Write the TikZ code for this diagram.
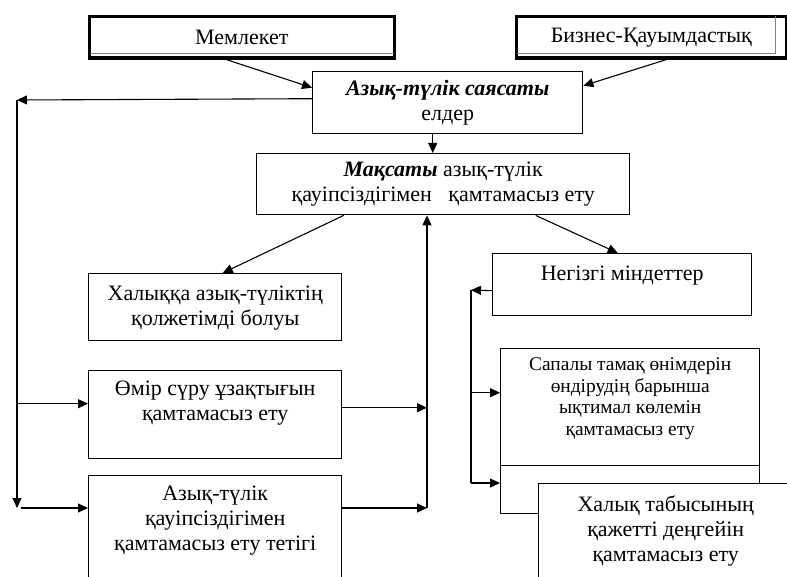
\documentclass[tikz,border=0pt]{standalone}
\usepackage{fontspec}
\setmainfont{Liberation Serif}
\usetikzlibrary{arrows.meta,positioning,calc}

\begin{document}
\begin{tikzpicture}[x=0.5pt,y=-0.5pt]
\tikzset{
     box/.style={draw, line width=0.7pt, inner sep=0pt, anchor=north west, fill=white},
     frame/.style={box, line width=1.3pt},
     txt/.style={align=center, inner sep=0pt, font=\fontsize{11}{12.5}\selectfont},
     arr/.style={-{Triangle[length=5pt,width=4.5pt]}, line width=0.55pt}}

\useasboundingbox (0,0) rectangle (787,577);
\clip (0,0) rectangle (787,577);

% The framed boxes on top
\node (state) [frame, txt, minimum width=152.5pt, minimum height=21pt] at (88,15) {Мемлекет};
\node (biz) [frame, txt, minimum width=135pt, minimum height=21pt] at (515,15) {Бизнес-Қауымдастық};

\draw [line width=2pt] ([yshift=1pt]state.south west) -- ([yshift=1pt]state.south east);
\draw [gray, line width=0.5pt] ([xshift=1pt,yshift=3pt]state.south west) -- ([xshift=-1pt,yshift=3pt]state.south east);
\draw [line width=2pt] ([yshift=1pt]biz.south west) -- ([yshift=1pt]biz.south east);
\draw [line width=1.5pt] ([xshift=-0.5pt]biz.north east) -- ([xshift=-0.5pt]biz.south east);
\draw [gray, line width=0.5pt] ([xshift=1pt,yshift=3pt]biz.south west) -- ([xshift=-6pt,yshift=3pt]biz.south east)
      -- ([xshift=-6pt,yshift=-0.6pt]biz.north east);

% The middle column
\node (policy) [box, txt, minimum width=135pt, minimum height=31pt] at (312,71)
      {\textbf{\textit{Азық-түлік саясаты}}\\ елдер};
\node (goal) [box, txt, minimum width=186.5pt, minimum height=30.5pt] at (256,153)
      {\textbf{\textit{Мақсаты}} азық-түлік\\ қауіпсіздігімен\ \ \ қамтамасыз ету};

% The left boxes
\node (access) [box, minimum width=126.5pt, minimum height=33.5pt] at (88,273) {};
\node (life) [box, minimum width=126.5pt, minimum height=44pt] at (88,370) {};
\node (mech) [box, minimum width=126.5pt, minimum height=65pt] at (88,475) {};

\node [txt, below=6.5pt of access.north] {Халыққа азық-түліктің\\ қолжетімді болуы};
\node [txt, below=5.5pt of life.north] {Өмір сүру ұзақтығын\\ қамтамасыз ету};
\node [txt, below=5.5pt of mech.north] {Азық-түлік\\ қауіпсіздігімен\\ қамтамасыз ету тетігі};

% The right boxes
\node (tasks) [box, minimum width=129.5pt, minimum height=31pt] at (492,253) {};
\node (prod) [box, minimum width=129.5pt, minimum height=58.5pt] at (500,348) {};
\node (spare) [box, minimum width=129.5pt, minimum height=24pt] at (500,465) {};
\node (income) [box, minimum width=127pt, minimum height=65pt] at (538,483) {};

\node [txt, below=6.5pt of tasks.north] {Негізгі міндеттер};
\node [txt, below=4.5pt of prod.north, font=\fontsize{9.7}{10.9}\selectfont]
      {Сапалы тамақ өнімдерін\\ өндірудің барынша\\ ықтимал көлемін\\ қамтамасыз ету};
\node [txt, below=6pt of income.north] {Халық табысының\\ қажетті деңгейін\\ қамтамасыз ету};

% Connectors
\coordinate (ltop) at (17,100);
\coordinate (lbot) at (17,508);
\coordinate (mstart) at (21,508);
\coordinate (rtop) at (471,290);
\coordinate (rbot) at (471,483);
\coordinate (ubot) at (427,508);

\draw [arr] ([xshift=-7.75pt]state.south) -- ([yshift=7.5pt]policy.west);
\draw [arr] ([xshift=7.5pt]biz.south) -- ([yshift=8.5pt]policy.east);

\coordinate (polout) at ([xshift=-7.5pt]policy.south);
\draw [arr] (polout) -- (polout |- goal.north);

\draw [arr] ([yshift=2pt]policy.west) -- (ltop);
\draw [arr] (ltop) -- (lbot);

\coordinate (lifein) at ([yshift=5.5pt]life.west);
\coordinate (mechin) at ([yshift=-16.5pt]mech.north west);
\draw [arr] (lifein -| ltop) -- (lifein);
\draw [arr] (mstart) -- (mechin);

\draw [arr] ([xshift=-49.75pt]goal.south) -- ([xshift=3.75pt]access.north);
\draw [arr] ([xshift=46.25pt]goal.south) -- ([xshift=-2.25pt]tasks.north);

\draw [arr] ([yshift=-3pt]tasks.west) -- (rtop);
\draw [line width=0.55pt] (rtop) -- (rbot);
\coordinate (prodin) at ([yshift=7.25pt]prod.west);
\draw [arr] (prodin -| rtop) -- (prodin);
\draw [arr] (rbot) -- (rbot -| spare.west);

\coordinate (lifeout) at ([yshift=3.5pt]life.east);
\draw [arr] (lifeout) -- (lifeout -| ubot);
\draw [arr] (mechin -| mech.east) -- (ubot);
\draw [arr] (ubot) -- (ubot |- goal.south);
\end{tikzpicture}
\end{document}
